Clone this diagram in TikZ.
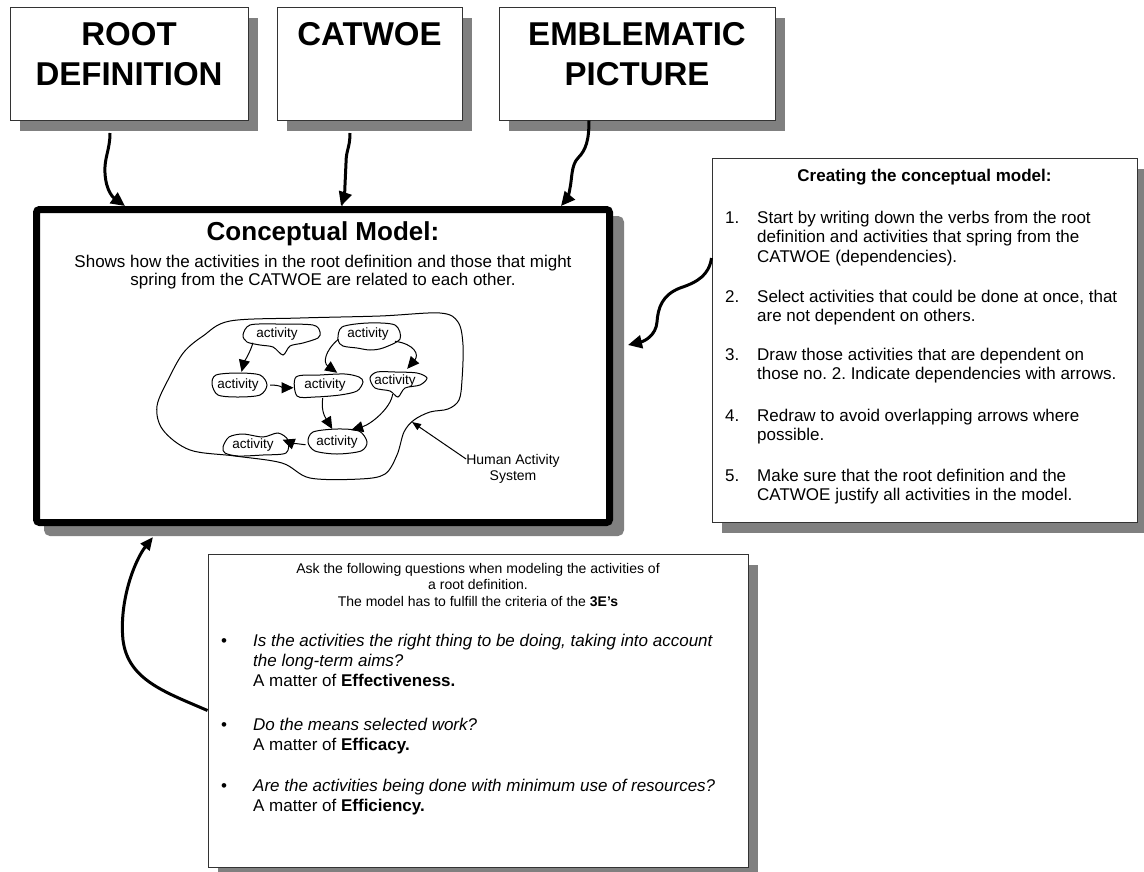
\documentclass[tikz,border=0pt]{standalone}
\usepackage{fontspec}
\setmainfont{Liberation Sans}
\usetikzlibrary{arrows.meta, positioning, shapes.geometric, shadows}

\begin{document}
\begin{tikzpicture}[
    x=1pt, y=-1pt,
    panel/.style={draw=black!80, line width=1pt, fill=white,
        drop shadow={shadow xshift=10pt, shadow yshift=-11pt,
            fill=gray, opacity=1}},
    model/.style={draw, line width=7pt, fill=white, rounded corners=3pt,
        drop shadow={shadow xshift=11pt, shadow yshift=-10pt,
            fill=gray, draw=gray, opacity=1}},
    heading/.style={font=\fontsize{33}{40}\selectfont\bfseries,
        align=center, inner sep=0pt},
    body/.style={font=\fontsize{17}{19.5}\selectfont, inner sep=0pt},
    note/.style={font=\fontsize{14}{16.5}\selectfont, inner sep=0pt},
    act/.style={ellipse, minimum width=64, minimum height=26, inner sep=0pt,
        font=\fontsize{13.5}{15}\selectfont},
    outline/.style={line width=1pt},
    feed/.style={line width=3pt, -{Triangle[length=14pt, width=13pt]}},
    dep/.style={line width=1pt, -{Triangle[length=12pt, width=11pt]}},
]
    \useasboundingbox[fill=white] (0,0) rectangle (1144,871);

    % Source boxes
    \node[panel, minimum width=238, minimum height=113] (root) at (129,63.5) {};
    \node[panel, minimum width=185, minimum height=113] (catwoe) at (369.5,63.5) {};
    \node[panel, minimum width=276, minimum height=113] (emblem) at (637,63.5) {};
    \node[heading, below=16pt of root.north] (rootText) {ROOT\\DEFINITION};
    \node[heading, below=16pt of catwoe.north] (catwoeText) {CATWOE};
    \node[heading, below=16pt of emblem.north] (emblemText) {EMBLEMATIC\\PICTURE};

    % Conceptual model frame
    \node[model, minimum width=573, minimum height=313] (cm) at (323,366) {};
    \node[font=\fontsize{26}{30}\selectfont\bfseries, inner sep=0pt, anchor=base]
        (cmTitle) at (323,240) {Conceptual Model:};
    \node[body, font=\fontsize{17}{18.5}\selectfont, align=center, anchor=north]
        (cmText) at (323,254.5)
        {Shows how the activities in the root definition and those that might\\
         spring from the CATWOE are related to each other.};

    % Human activity system
    \draw[outline] plot[smooth cycle, tension=0.55] coordinates {
        (230,321) (300,318) (380,316) (440,313) (458,322) (463,345)
        (462,380) (459,400) (448,409) (430,412) (414,420) (404,432)
        (397,455) (385,474) (360,479) (310,478) (282,463) (235,456)
        (190,450) (163,430) (157,406) (170,376) (184,352) (203,336)};
    \coordinate (hasEdge) at (412,422);

    \node[act] (a1) at (277,334) {activity};
    \node[act] (a2) at (368,334) {activity};
    \node[act] (a3) at (238,385) {activity};
    \node[act] (a4) at (325,385) {activity};
    \node[act] (a5) at (395,381) {activity};
    \node[act] (a6) at (337,442) {activity};
    \node[act] (a7) at (253,445) {activity};

    \draw[outline, shift={(a1)}] plot[smooth cycle] coordinates {(-27,-9) (0,-10)
        (36,-9) (43,-2) (41,4) (26,9) (13,12) (6,21) (-4,13) (-17,11) (-30,8) (-34,1)};
    \draw[outline, shift={(a2)}] plot[smooth cycle] coordinates {(-30,6) (-26,-7)
        (0,-11) (27,-9) (32,5) (15,14) (2,16) (-11,14) (-25,12)};
    \draw[outline, shift={(a3)}] plot[smooth cycle] coordinates {(-26,-1) (-22,-10)
        (0,-12) (22,-10) (29,0) (22,10) (0,12) (-20,10)};
    \draw[outline, shift={(a4)}] plot[smooth cycle] coordinates {(-29,-8) (-5,-10)
        (20,-11) (34,-8) (38,-3) (32,6) (15,10) (-10,12) (-28,11)};
    \draw[outline, shift={(a5)}] plot[smooth cycle] coordinates {(-25,-3) (-18,-9)
        (0,-9) (22,-8) (32,-3) (25,4) (10,7) (3,16) (-5,10) (-20,7)};
    \draw[outline, shift={(a6)}] plot[smooth cycle] coordinates {(-29,0) (-24,-10)
        (0,-13) (22,-11) (30,0) (24,9) (0,12) (-22,9)};
    \draw[outline, shift={(a7)}] plot[smooth cycle] coordinates {(-30,2) (-24,-8)
        (-10,-11) (10,-8) (25,-12) (35,-5) (33,8) (10,10) (-15,11) (-28,8)};

    % Dependencies
    \draw[dep] (a1.200) .. controls +(-2,8) and +(2,-8) .. (a3.75);
    \draw[dep] (a3.0) .. controls +(10,0) and +(-10,0) .. (a4.185);
    \draw[dep] (a2.190) .. controls +(-14,12) and +(-14,-10) .. (a4.45);
    \draw[dep] (a2.-15) .. controls +(20,3) and +(12,-14) .. (a5.45);
    \draw[dep] (a4.-100) .. controls +(-2,14) and +(-6,-10) .. (a6.110);
    \draw[dep] (a5.-100) .. controls +(-2,14) and +(20,-6) .. (a6.40);
    \draw[dep] (a6.185) .. controls +(-8,-1) and +(8,3) .. (a7.10);

    \node[note, align=center] (hasLabel) at (513,469) {Human Activity\\System};
    \draw[line width=1pt, -{Triangle[length=9pt, width=7pt]}]
        ([yshift=10pt]hasLabel.west) -- (hasEdge);

    % Inputs to the model
    \draw[feed] ([xshift=-19pt, yshift=-12.5pt]root.south)
        .. controls (110,150) and (104,158) .. (105,173)
        .. controls (106,192) and (114,198) .. ([xshift=92pt]cm.north west);
    \draw[feed] ([xshift=-19.5pt, yshift=-12.5pt]catwoe.south)
        .. controls (350,148) and (346,150) .. (346,163) -- (345,185)
        .. controls (345,195) and (343,200) .. ([xshift=308pt]cm.north west);
    \draw[feed] ([xshift=-48pt]emblem.south)
        .. controls (589,140) and (586,150) .. (578,158)
        .. controls (571,165) and (572,180) .. (570,188)
        .. controls (569,196) and (566,200) .. ([xshift=-52pt]cm.north east);

    % Steps for building the model
    \node[panel, minimum width=425, minimum height=364] (guide) at (924.5,340) {};
    \node[body, font=\fontsize{17}{19.5}\selectfont\bfseries, anchor=base]
        (guideTitle) at (924.5,181) {Creating the conceptual model:};
    \node[body, anchor=north west] (g1) at (725,209.35)
        {\begin{tabular}{@{}p{32pt}@{}l@{}}1.& Start by writing down the verbs from the root\\
         & definition and activities that spring from the\\ & CATWOE (dependencies).\end{tabular}};
    \node[body, anchor=north west] (g2) at (725,288.35)
        {\begin{tabular}{@{}p{32pt}@{}l@{}}2.& Select activities that could be done at once, that\\
         & are not dependent on others.\end{tabular}};
    \node[body, anchor=north west] (g3) at (725,346.35)
        {\begin{tabular}{@{}p{32pt}@{}l@{}}3.& Draw those activities that are dependent on\\
         & those no.\ 2.\ Indicate dependencies with arrows.\end{tabular}};
    \node[body, anchor=north west] (g4) at (725,407.35)
        {\begin{tabular}{@{}p{32pt}@{}l@{}}4.& Redraw to avoid overlapping arrows where\\
         & possible.\end{tabular}};
    \node[body, anchor=north west] (g5) at (725,467.35)
        {\begin{tabular}{@{}p{32pt}@{}l@{}}5.& Make sure that the root definition and the\\
         & CATWOE justify all activities in the model.\end{tabular}};
    \draw[feed] ([yshift=82pt]guide.west)
        .. controls (709,275) and (698,282) .. (680,288)
        .. controls (662,295) and (658,308) .. (657,322)
        .. controls (656,335) and (645,341) .. ([xshift=15pt, yshift=21pt]cm.east);

    % The 3E's questions
    \node[panel, minimum width=540, minimum height=313] (ask) at (478,710.5) {};
    \node[note, align=center, anchor=north] (askHead) at (478,563)
        {Ask the following questions when modeling the activities of\\
         a root definition.\\
         The model has to fulfill the criteria of the \textbf{3E’s}};
    \node[body, font=\fontsize{17}{20}\selectfont, anchor=north west] (q1) at (221,632.7)
        {\begin{tabular}{@{}p{32pt}@{}l@{}}\textbullet & \textit{Is the activities the right thing to be doing, taking into account}\\
         & \textit{the long-term aims?}\\ & A matter of \textbf{Effectiveness.}\end{tabular}};
    \node[body, font=\fontsize{17}{20}\selectfont, anchor=north west] (q2) at (221,716)
        {\begin{tabular}{@{}p{32pt}@{}l@{}}\textbullet & \textit{Do the means selected work?}\\
         & A matter of \textbf{Efficacy.}\end{tabular}};
    \node[body, font=\fontsize{17}{20}\selectfont, anchor=north west] (q3) at (221,777)
        {\begin{tabular}{@{}p{32pt}@{}l@{}}\textbullet & \textit{Are the activities being done with minimum use of resources?}\\
         & A matter of \textbf{Efficiency.}\end{tabular}};
    \draw[line width=3pt, -{Triangle[length=13pt, width=11pt]}] (ask.west)
        .. controls (165,692) and (128,680) .. (123,640)
        .. controls (119,600) and (135,560) .. ([xshift=120pt, yshift=-11pt]cm.south west);
\end{tikzpicture}
\end{document}
